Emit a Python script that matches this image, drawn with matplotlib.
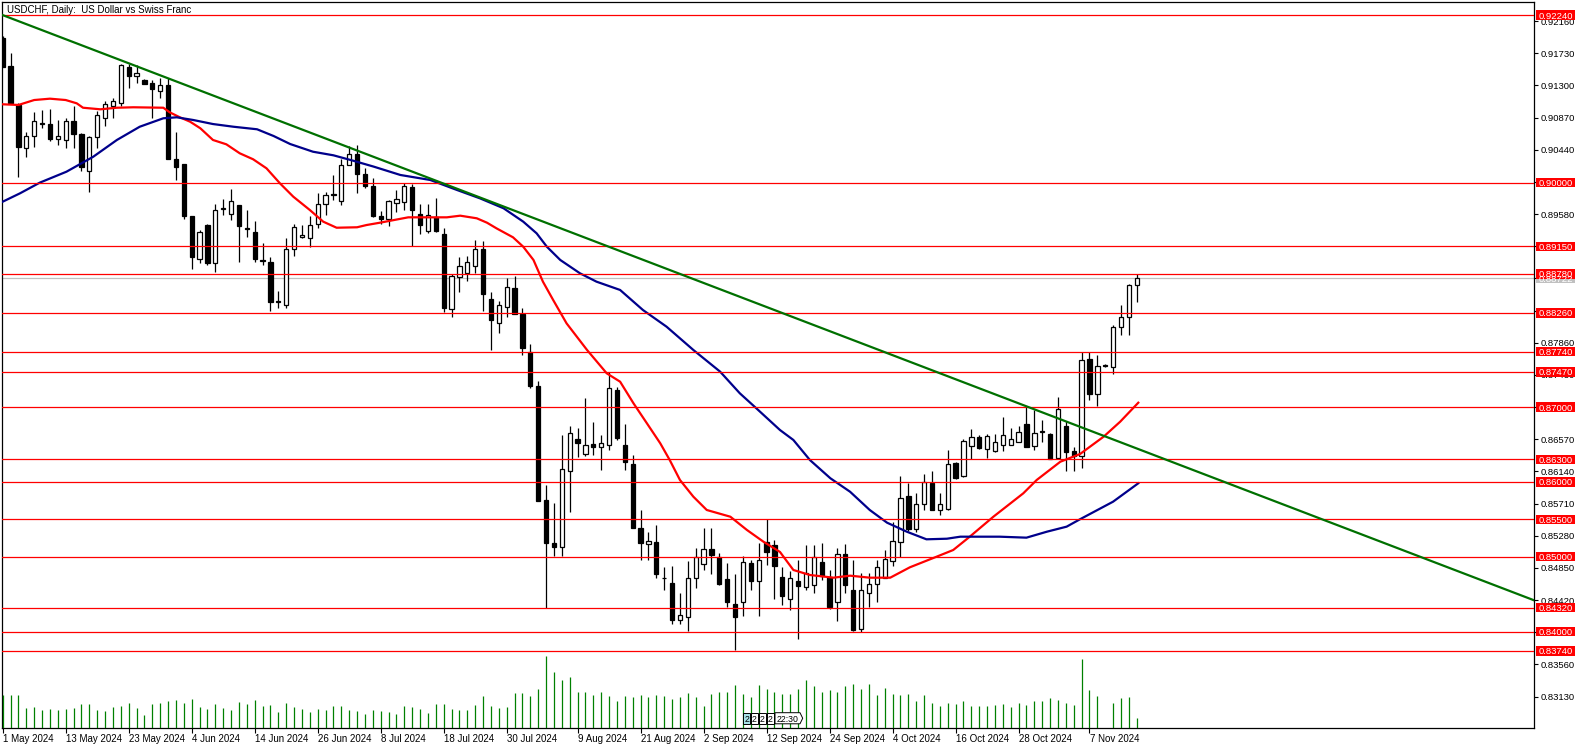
import matplotlib
matplotlib.use('Agg')
import matplotlib.pyplot as plt
from matplotlib.patches import Rectangle, Polygon
from matplotlib.transforms import blended_transform_factory
import numpy as np

plt.rcParams['font.family'] = ['Liberation Sans', 'DejaVu Sans']

W, H = 1586, 749

title = 'USDCHF, Daily:  US Dollar vs Swiss Franc'

# daily OHLC, one entry per bar (bar 0 = 1 May 2024)
opens = [0.9193, 0.9156, 0.9104, 0.9046, 0.9062, 0.9080, 0.9078, 0.9059, 0.9057, 0.9082,
         0.9065, 0.9015, 0.9061, 0.9087, 0.9103, 0.9107, 0.9154, 0.9142, 0.9137, 0.9133,
         0.9122, 0.9130, 0.9031, 0.9025, 0.8955, 0.8898, 0.8943, 0.8892, 0.8965, 0.8958,
         0.8970, 0.8940, 0.8934, 0.8897, 0.8894, 0.8842, 0.8836, 0.8912, 0.8928, 0.8926,
         0.8945, 0.8971, 0.8985, 0.8975, 0.9024, 0.9038, 0.9012, 0.8996, 0.8955, 0.8952,
         0.8973, 0.8974, 0.8994, 0.8958, 0.8936, 0.8954, 0.8932, 0.8831, 0.8874, 0.8879,
         0.8888, 0.8911, 0.8844, 0.8812, 0.8834, 0.8859, 0.8824, 0.8774, 0.8728, 0.8576,
         0.8518, 0.8513, 0.8615, 0.8658, 0.8637, 0.8651, 0.8647, 0.8650, 0.8723, 0.8649,
         0.8624, 0.8539, 0.8517, 0.8520, 0.8472, 0.8465, 0.8416, 0.8420, 0.8472, 0.8490,
         0.8510, 0.8500, 0.8470, 0.8437, 0.8440, 0.8491, 0.8467, 0.8520, 0.8516, 0.8473,
         0.8443, 0.8468, 0.8460, 0.8462, 0.8493, 0.8473, 0.8440, 0.8503, 0.8456, 0.8403,
         0.8451, 0.8463, 0.8471, 0.8494, 0.8520, 0.8581, 0.8537, 0.8570, 0.8598, 0.8562,
         0.8564, 0.8625, 0.8608, 0.8648, 0.8660, 0.8644, 0.8641, 0.8650, 0.8650, 0.8654,
         0.8677, 0.8648, 0.8667, 0.8664, 0.8632, 0.8675, 0.8641, 0.8635, 0.8764, 0.8718,
         0.8756, 0.8753, 0.8807, 0.8820, 0.8863]
highs = [0.9196, 0.9174, 0.9106, 0.9068, 0.9095, 0.9097, 0.9098, 0.9084, 0.9087, 0.9103,
         0.9066, 0.9062, 0.9096, 0.9109, 0.9113, 0.9158, 0.9158, 0.9157, 0.9138, 0.9137,
         0.9140, 0.9140, 0.9068, 0.9025, 0.8955, 0.8937, 0.8945, 0.8972, 0.8978, 0.8992,
         0.8970, 0.8963, 0.8949, 0.8920, 0.8901, 0.8855, 0.8926, 0.8945, 0.8943, 0.8955,
         0.8986, 0.8988, 0.9010, 0.9031, 0.9049, 0.9050, 0.9019, 0.9006, 0.8962, 0.8977,
         0.8990, 0.9000, 0.8998, 0.8972, 0.8972, 0.8979, 0.8939, 0.8878, 0.8901, 0.8902,
         0.8924, 0.8922, 0.8854, 0.8842, 0.8872, 0.8875, 0.8832, 0.8784, 0.8735, 0.8596,
         0.8572, 0.8663, 0.8675, 0.8672, 0.8712, 0.8680, 0.8663, 0.8747, 0.8727, 0.8677,
         0.8636, 0.8562, 0.8533, 0.8542, 0.8486, 0.8487, 0.8452, 0.8494, 0.8512, 0.8538,
         0.8538, 0.8505, 0.8491, 0.8477, 0.8501, 0.8496, 0.8518, 0.8550, 0.8522, 0.8486,
         0.8481, 0.8496, 0.8516, 0.8516, 0.8518, 0.8482, 0.8512, 0.8517, 0.8496, 0.8478,
         0.8478, 0.8496, 0.8509, 0.8546, 0.8608, 0.8599, 0.8585, 0.8611, 0.8615, 0.8585,
         0.8643, 0.8626, 0.8658, 0.8671, 0.8663, 0.8664, 0.8664, 0.8687, 0.8672, 0.8675,
         0.8701, 0.8696, 0.8683, 0.8666, 0.8713, 0.8681, 0.8647, 0.8774, 0.8774, 0.8770,
         0.8757, 0.8810, 0.8837, 0.8865, 0.8878]
lows = [0.9154, 0.9105, 0.9008, 0.9035, 0.9048, 0.9073, 0.9056, 0.9050, 0.9046, 0.9046,
        0.9015, 0.8988, 0.9046, 0.9076, 0.9087, 0.9102, 0.9126, 0.9133, 0.9132, 0.9086,
        0.9113, 0.9031, 0.9004, 0.8951, 0.8884, 0.8892, 0.8890, 0.8881, 0.8957, 0.8950,
        0.8894, 0.8927, 0.8894, 0.8890, 0.8828, 0.8832, 0.8832, 0.8902, 0.8926, 0.8914,
        0.8939, 0.8957, 0.8977, 0.8970, 0.9023, 0.8986, 0.8993, 0.8954, 0.8945, 0.8942,
        0.8961, 0.8963, 0.8915, 0.8932, 0.8933, 0.8934, 0.8827, 0.8820, 0.8854, 0.8869,
        0.8879, 0.8829, 0.8776, 0.8799, 0.8820, 0.8824, 0.8770, 0.8726, 0.8574, 0.8432,
        0.8501, 0.8501, 0.8560, 0.8633, 0.8634, 0.8636, 0.8616, 0.8643, 0.8656, 0.8616,
        0.8538, 0.8496, 0.8496, 0.8471, 0.8456, 0.8410, 0.8410, 0.8401, 0.8458, 0.8482,
        0.8477, 0.8462, 0.8433, 0.8375, 0.8421, 0.8456, 0.8421, 0.8489, 0.8444, 0.8435,
        0.8429, 0.8390, 0.8456, 0.8452, 0.8469, 0.8430, 0.8414, 0.8451, 0.8401, 0.8399,
        0.8433, 0.8440, 0.8471, 0.8488, 0.8500, 0.8535, 0.8533, 0.8562, 0.8562, 0.8556,
        0.8562, 0.8604, 0.8607, 0.8631, 0.8644, 0.8632, 0.8640, 0.8642, 0.8649, 0.8653,
        0.8647, 0.8643, 0.8654, 0.8630, 0.8631, 0.8615, 0.8615, 0.8619, 0.8709, 0.8701,
        0.8753, 0.8744, 0.8797, 0.8797, 0.8840]
closes = [0.9155, 0.9106, 0.9048, 0.9062, 0.9082, 0.9079, 0.9059, 0.9062, 0.9082, 0.9065,
          0.9021, 0.9061, 0.9090, 0.9105, 0.9109, 0.9157, 0.9142, 0.9147, 0.9132, 0.9125,
          0.9131, 0.9032, 0.9021, 0.8955, 0.8901, 0.8934, 0.8892, 0.8964, 0.8966, 0.8975,
          0.8942, 0.8938, 0.8898, 0.8895, 0.8841, 0.8840, 0.8912, 0.8941, 0.8930, 0.8944,
          0.8972, 0.8984, 0.8984, 0.9023, 0.9038, 0.9012, 0.8995, 0.8955, 0.8952, 0.8975,
          0.8978, 0.8996, 0.8963, 0.8943, 0.8957, 0.8936, 0.8833, 0.8875, 0.8888, 0.8894,
          0.8912, 0.8851, 0.8816, 0.8837, 0.8860, 0.8825, 0.8779, 0.8728, 0.8575, 0.8518,
          0.8513, 0.8617, 0.8665, 0.8652, 0.8650, 0.8647, 0.8652, 0.8726, 0.8659, 0.8627,
          0.8539, 0.8518, 0.8521, 0.8477, 0.8471, 0.8415, 0.8422, 0.8472, 0.8499, 0.8511,
          0.8502, 0.8464, 0.8439, 0.8420, 0.8493, 0.8468, 0.8496, 0.8506, 0.8488, 0.8447,
          0.8471, 0.8461, 0.8478, 0.8500, 0.8474, 0.8433, 0.8503, 0.8462, 0.8402, 0.8456,
          0.8464, 0.8486, 0.8497, 0.8521, 0.8578, 0.8537, 0.8570, 0.8600, 0.8562, 0.8571,
          0.8624, 0.8605, 0.8655, 0.8660, 0.8646, 0.8661, 0.8654, 0.8663, 0.8657, 0.8667,
          0.8647, 0.8666, 0.8668, 0.8630, 0.8697, 0.8640, 0.8634, 0.8763, 0.8718, 0.8755,
          0.8755, 0.8807, 0.8820, 0.8863, 0.8872]
# tick volume, thousands
volumes = [100, 100, 100, 61, 64, 55, 58, 55, 58, 61, 73, 73, 55, 52, 64, 67, 76, 61, 40, 73,
           76, 82, 85, 76, 88, 64, 58, 73, 61, 55, 79, 73, 85, 67, 70, 49, 76, 64, 58, 49,
           58, 55, 67, 67, 55, 52, 43, 55, 52, 49, 43, 67, 64, 58, 46, 73, 73, 58, 55, 55,
           70, 97, 67, 61, 64, 106, 106, 97, 118, 216, 169, 145, 154, 109, 109, 100, 109, 97, 82, 97,
           94, 100, 94, 100, 97, 88, 94, 106, 94, 67, 103, 109, 109, 130, 103, 94, 130, 118, 109, 103,
           103, 118, 145, 127, 109, 115, 109, 127, 133, 118, 133, 100, 121, 103, 100, 103, 82, 100, 76, 67,
           76, 73, 82, 67, 67, 67, 70, 73, 64, 76, 70, 82, 82, 91, 85, 76, 70, 208, 115, 97,
           0, 76, 91, 94, 31]

# moving averages (bar index, price)
ma_red_x = [0, 2, 4, 6, 8, 9.4, 10.2, 12.4, 14.5, 16.6, 20.4, 21.2, 22.5, 23.8, 25.1, 26.7, 28.4,
            30.1, 31.8, 33.5, 35.2, 36.9, 39.0, 40.7, 42.4, 45.0, 46.2, 47.9, 51.5, 56.4, 58.1,
            60.2, 61.5, 62.7, 64.8, 66.1, 67.4, 68.6, 69.9, 71.6, 74.2, 76.7, 78.4, 80.1, 81.8,
            83.5, 84.7, 86.0, 87.7, 89.4, 92.4, 94.5, 96.6, 98.7, 100.4, 102.5, 105.5, 107.6,
            110.1, 112.7, 115.2, 118.6, 120.7, 122.8, 125.8, 129.6, 131.3, 134.3, 136.8, 139.8,
            141.9, 144.2]
ma_red_y = [0.91048, 0.91039, 0.91105, 0.91123, 0.91105, 0.91061, 0.91002, 0.90981, 0.91002,
            0.91008, 0.91002, 0.90941, 0.90874, 0.90815, 0.90727, 0.90571, 0.90513, 0.90393,
            0.90313, 0.90192, 0.89992, 0.89813, 0.89635, 0.89479, 0.89398, 0.89404, 0.89434,
            0.89465, 0.89537, 0.89537, 0.89559, 0.89524, 0.89465, 0.89390, 0.89270, 0.89144,
            0.88967, 0.88677, 0.88432, 0.88120, 0.87764, 0.87452, 0.87340, 0.87051, 0.86784,
            0.86516, 0.86293, 0.86026, 0.85803, 0.85625, 0.85535, 0.85358, 0.85201, 0.85064,
            0.84823, 0.84756, 0.84720, 0.84747, 0.84720, 0.84720, 0.84859, 0.85001, 0.85090,
            0.85268, 0.85535, 0.85848, 0.86026, 0.86270, 0.86373, 0.86605, 0.86805, 0.87059]
ma_blue_x = [0, 2.2, 4.7, 8.1, 11.5, 14.5, 17.4, 20.4, 22.1, 24.2, 26.7, 29.3, 32.3, 34.4, 36.5,
             39.4, 42.0, 44.5, 47.1, 50.5, 54.3, 57.7, 60.6, 63.6, 66.1, 67.8, 69.1, 70.8, 73.3,
             75.4, 78.4, 81.3, 84.3, 87.7, 91.1, 93.6, 95.7, 98.7, 100.4, 102.5, 105.1, 107.6,
             110.1, 112.3, 114.8, 117.3, 119.9, 121.6, 126.6, 130.0, 132.6, 135.1, 136.8, 141.0, 144.2]
ma_blue_y = [0.89746, 0.89858, 0.90000, 0.90147, 0.90347, 0.90571, 0.90748, 0.90861, 0.90874,
             0.90838, 0.90784, 0.90748, 0.90714, 0.90624, 0.90517, 0.90414, 0.90366, 0.90294,
             0.90215, 0.90103, 0.90036, 0.89902, 0.89791, 0.89658, 0.89479, 0.89323, 0.89144,
             0.88967, 0.88789, 0.88677, 0.88566, 0.88298, 0.88075, 0.87764, 0.87474, 0.87185,
             0.86984, 0.86694, 0.86561, 0.86293, 0.86049, 0.85869, 0.85625, 0.85455, 0.85335,
             0.85233, 0.85241, 0.85268, 0.85268, 0.85255, 0.85335, 0.85402, 0.85501, 0.85736, 0.85982]

trend_x = [0, 194.4]
trend_y = [0.9224, 0.8442]

levels = [0.9224, 0.9000, 0.8915, 0.8878, 0.8826, 0.8774, 0.8747, 0.8700,
          0.8630, 0.8600, 0.8550, 0.8500, 0.8432, 0.8400, 0.8374]
bid = 0.88722

price_ticks = [0.9216, 0.9173, 0.9130, 0.9087, 0.9044, 0.9001, 0.8958, 0.8915, 0.8872, 0.8829,
               0.8786, 0.8743, 0.8700, 0.8657, 0.8614, 0.8571, 0.8528, 0.8485, 0.8442, 0.8399,
               0.8356, 0.8313]
date_idx = [0, 8, 16, 24, 32, 40, 48, 56, 64, 73, 81, 89, 97, 105, 113, 121, 129, 138]
date_lbl = ['1 May 2024', '13 May 2024', '23 May 2024', '4 Jun 2024', '14 Jun 2024',
            '26 Jun 2024', '8 Jul 2024', '18 Jul 2024', '30 Jul 2024', '9 Aug 2024',
            '21 Aug 2024', '2 Sep 2024', '12 Sep 2024', '24 Sep 2024', '4 Oct 2024',
            '16 Oct 2024', '28 Oct 2024', '7 Nov 2024']

# ---------------------------------------------------------------
fig = plt.figure(figsize=(W / 100, H / 100), dpi=100)
fig.patch.set_facecolor('white')
ax = fig.add_axes([2.3 / W, 20.7 / H, 1531.4 / W, 726 / H])
ax.set_xlim(-0.05, 194.41)
ax.set_ylim(0.827067, 0.924113)

for s in ax.spines.values():
    s.set_linewidth(0.9)
    s.set_color('black')

# volumes on their own scale
axv = ax.twinx()
axv.set_ylim(0, 2178)
axv.set_axis_off()
xv = np.arange(len(volumes))
axv.vlines(xv, 0, volumes, color='#008000', lw=0.9)

# candles
x = np.arange(len(opens))
o = np.array(opens); hi = np.array(highs); lo = np.array(lows); c = np.array(closes)
up = c >= o
ax.vlines(x, lo, hi, color='black', lw=0.9, zorder=3)
ax.bar(x[up], (c - o)[up], bottom=o[up], width=0.55, color='white',
       edgecolor='black', linewidth=0.9, zorder=4)
ax.bar(x[~up], (o - c)[~up], bottom=c[~up], width=0.55, color='black',
       edgecolor='black', linewidth=0.9, zorder=4)

# moving averages and trend line
ax.plot(ma_red_x, ma_red_y, color='#FF0000', lw=1.6, zorder=5)
ax.plot(ma_blue_x, ma_blue_y, color='#00008B', lw=1.6, zorder=5)
ax.plot(trend_x, trend_y, color='#007000', lw=1.6, zorder=6)

# horizontal levels
ax.axhline(bid, color='#C0C0C0', lw=0.9, zorder=2)
for lv in levels:
    ax.axhline(lv, color='#FF0000', lw=0.9, zorder=5.5)

# right price scale
ax.yaxis.tick_right()
ax.set_yticks(price_ticks)
ax.set_yticklabels(['%.5f' % t for t in price_ticks])
ax.tick_params(axis='y', direction='out', length=3.2, width=0.8, pad=1.5,
               labelsize=6.8, colors='black')

# date scale
ax.set_xticks(date_idx)
ax.set_xticklabels([''] * len(date_idx))
ax.tick_params(axis='x', direction='out', length=3.8, width=0.8)
tx = blended_transform_factory(ax.transData, fig.transFigure)
for i, lb in zip(date_idx, date_lbl):
    ax.text(i + 0.1, 1 - 741.7 / H, lb, transform=tx, ha='left', va='baseline',
            fontsize=7, clip_on=False)

# price labels on the scale
ty = blended_transform_factory(fig.transFigure, ax.transData)
bh = 9.3 / 7481


def price_label(p, txt, fc):
    ax.add_patch(Rectangle((1536 / W, p - bh / 2), 39 / W, bh, transform=ty,
                           facecolor=fc, edgecolor='none', clip_on=False, zorder=8))
    ax.text(1538.5 / W, p, txt, transform=ty, color='white', fontsize=6.8,
            ha='left', va='center_baseline', clip_on=False, zorder=9)


price_label(bid, '%.5f' % bid, '#C0C0C0')
for lv in levels:
    price_label(lv, '%.5f' % lv, '#FF0000')

fig.text(6.7 / W, 1 - 13.3 / H, title, fontsize=7, ha='left', va='baseline')

# small time markers at the bottom of the chart
marks = [(743.3, 750.0, '2', '#A8E2E8'), (751.0, 757.7, '2', 'white'),
         (759.0, 765.7, '2', 'white'), (767.0, 773.7, '2', 'white')]
y0, y1 = 712.7, 723.8


def fpt(px, py):
    return (px / W, 1 - py / H)


for xa, xb, t, fc in marks:
    fig.patches.append(Polygon([fpt(xa, y0), fpt(xb, y0), fpt(xb, y1), fpt(xa, y1)],
                               closed=True, transform=fig.transFigure, facecolor=fc,
                               edgecolor='black', lw=0.7))
    fig.text((xa + xb) / 2 / W, 1 - (y0 + y1) / 2 / H, t, fontsize=6.3,
             ha='center', va='center_baseline')
fig.patches.append(Polygon([fpt(775.0, y0), fpt(800.0, y0), fpt(802.7, (y0 + y1) / 2),
                            fpt(800.0, y1), fpt(775.0, y1)], closed=True,
                           transform=fig.transFigure, facecolor='white',
                           edgecolor='black', lw=0.7))
fig.text(787.5 / W, 1 - (y0 + y1) / 2 / H, '22:30', fontsize=6.3, ha='center',
         va='center_baseline')

fig.savefig('out.png', dpi=100)
